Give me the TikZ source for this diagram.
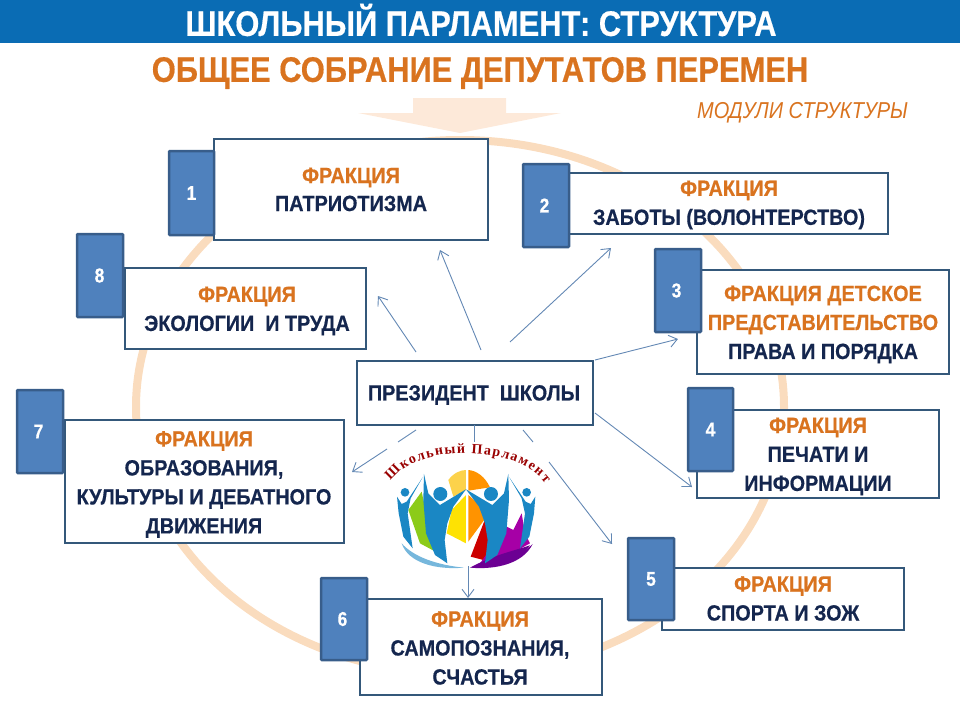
\documentclass[tikz,border=0pt]{standalone}
\usepackage{fontspec}
\setmainfont{Liberation Sans}
\newfontfamily\nar[FakeStretch=0.87,BoldFeatures={FakeStretch=0.87,FakeBold=0.5}]{Liberation Sans}
\newfontfamily\narl[FakeStretch=0.9,BoldFeatures={FakeStretch=0.9,FakeBold=0.5}]{Liberation Sans}
\newfontfamily\logofont{Liberation Serif}
\usetikzlibrary{arrows.meta,decorations.text}
\definecolor{band}{HTML}{0A6CB4}
\definecolor{orng}{HTML}{D9731F}
\definecolor{navy}{HTML}{14264E}
\definecolor{edge}{HTML}{34587A}
\definecolor{numf}{HTML}{4F81BD}
\definecolor{numd}{HTML}{385D8A}
\definecolor{ringc}{HTML}{FADCBE}
\definecolor{arrw}{HTML}{FDE9D9}
\definecolor{conn}{HTML}{6388B4}
\definecolor{figb}{HTML}{1A87C4}
\tikzset{
  boxst/.style={draw=edge,line width=2.8pt,fill=white,inner sep=0pt,rectangle},
  numst/.style={draw=numd,line width=2.5pt,fill=numf,text=white,font=\nar\bfseries\fontsize{20}{20}\selectfont,inner sep=0pt,rounded corners=0.8pt},
  lab/.style={text=navy,font=\narl\bfseries\fontsize{22}{29}\selectfont,align=center,inner sep=0pt},
  conn/.style={draw=conn,line width=0.9pt},
  tip/.style={-{Straight Barb[length=8pt,width=12pt,line width=0.9pt]}},
}
\newcommand{\fr}{\textcolor{orng}{ФРАКЦИЯ}}
\begin{document}
\begin{tikzpicture}[x=1pt,y=-1pt]
\useasboundingbox (0,0) rectangle (960,720);
\fill[band] (0,0) rectangle (960,43);
\node[text=white,inner sep=0pt,font=\nar\bfseries\fontsize{35.5}{35}\selectfont] (title) at (481,20) {ШКОЛЬНЫЙ ПАРЛАМЕНТ: СТРУКТУРА};
\node[text=orng,inner sep=0pt,font=\nar\bfseries\fontsize{35.5}{35}\selectfont] (sub) at (480,73) {ОБЩЕЕ СОБРАНИЕ ДЕПУТАТОВ ПЕРЕМЕН};
\node[text=orng,inner sep=0pt,font=\nar\itshape\fontsize{23}{23}\selectfont] (mod) at (802.5,113) {МОДУЛИ СТРУКТУРЫ};
% ring and big arrow
\draw[ringc,line width=8pt] (460,407) ellipse [x radius=324,y radius=267];
\fill[arrw] (413,98) -- (506,98) -- (506,113) -- (561,113) -- (460,133) -- (358,113) -- (413,113) -- cycle;
% boxes
\node[boxst,minimum width=274pt,minimum height=101pt] (b1) at (351,189.5) {};
\node[numst,minimum width=45pt,minimum height=84pt] (n1) at (191.5,193) {1};
\node[boxst,minimum width=319pt,minimum height=61pt] (b2) at (728.5,203.5) {};
\node[numst,minimum width=46pt,minimum height=83pt] (n2) at (546,205.5) {\hspace*{-3pt}2};
\node[boxst,minimum width=252pt,minimum height=104pt] (b3) at (823,322) {};
\node[numst,minimum width=46pt,minimum height=83pt] (n3) at (678,290.5) {\hspace*{-3pt}3};
\node[boxst,minimum width=242pt,minimum height=88pt] (b4) at (818,454) {};
\node[numst,minimum width=45pt,minimum height=83pt] (n4) at (710.5,429.5) {4};
\node[boxst,minimum width=242pt,minimum height=62pt] (b5) at (783,599) {};
\node[numst,minimum width=46pt,minimum height=82pt] (n5) at (651,579) {5};
\node[boxst,minimum width=242pt,minimum height=96pt] (b6) at (481,647) {};
\node[numst,minimum width=46pt,minimum height=82pt] (n6) at (344,619) {\hspace*{-3pt}6};
\node[boxst,minimum width=279pt,minimum height=123pt] (b7) at (204.5,481.5) {};
\node[numst,minimum width=46pt,minimum height=83pt] (n7) at (40,431.5) {\hspace*{-3pt}7};
\node[boxst,minimum width=241pt,minimum height=81pt] (b8) at (245.5,308.5) {};
\node[numst,minimum width=46pt,minimum height=83pt] (n8) at (100,275.5) {\hspace*{-1pt}8};
\node[boxst,minimum width=236pt,minimum height=64pt] (pres) at (475,393) {};
% labels
\node[lab] (l1) at (351,189.5) {\fr\\[-1pt]ПАТРИОТИЗМА};
\node[lab] (l2) at (729,205) {\fr\\ЗАБОТЫ (ВОЛОНТЕРСТВО)};
\node[lab] (l3) at (823,324.5) {\textcolor{orng}{ФРАКЦИЯ ДЕТСКОЕ}\\\textcolor{orng}{ПРЕДСТАВИТЕЛЬСТВО}\\ПРАВА И ПОРЯДКА};
\node[lab] (l4) at (818,456.5) {\fr\\ПЕЧАТИ И\\ИНФОРМАЦИИ};
\node[lab] (l5) at (783,598.5) {\fr\\СПОРТА И ЗОЖ};
\node[lab] (l6) at (480,648) {\fr\\САМОПОЗНАНИЯ,\\СЧАСТЬЯ};
\node[lab] (l7) at (204,484.5) {\fr\\ОБРАЗОВАНИЯ,\\КУЛЬТУРЫ И ДЕБАТНОГО\\ДВИЖЕНИЯ};
\node[lab] (l8) at (247,311) {\fr\\ЭКОЛОГИИ~ И ТРУДА};
\node[lab] (lp) at (474,395) {ПРЕЗИДЕНТ~ ШКОЛЫ};
% connector end points
\coordinate (s1) at (481,350); \coordinate (e1) at (440,250);
\coordinate (s2) at (510,342); \coordinate (e2) at (611,248);
\coordinate (s3) at (595,360); \coordinate (e3) at (678,339);
\coordinate (s4) at (595,413); \coordinate (e4) at (692,487);
\coordinate (s8) at (416,352); \coordinate (e8) at (378,296);
\coordinate (s7) at (416,430); \coordinate (m7a) at (398,442); \coordinate (m7b) at (387,449); \coordinate (e7) at (352,472);
\coordinate (s5) at (523,430); \coordinate (m5a) at (533,442); \coordinate (m5b) at (549,462); \coordinate (e5) at (612,544);
\coordinate (s6) at (474.5,425); \coordinate (m6a) at (474.5,442); \coordinate (m6b) at (468,566); \coordinate (e6) at (468,598);
\draw[conn,tip] (s1) -- (e1);
\draw[conn,tip] (s2) -- (e2);
\draw[conn,tip] (s3) -- (e3);
\draw[conn,tip] (s4) -- (e4);
\draw[conn,tip] (s8) -- (e8);
\draw[conn] (s7) -- (m7a);
\draw[conn,tip] (m7b) -- (e7);
\draw[conn] (s5) -- (m5a);
\draw[conn,tip] (m5b) -- (e5);
\draw[conn] (s6) -- (m6a);
\draw[conn,tip] (m6b) -- (e6);
% logo
\begin{scope}[shift={(340,400)},x=0.3333pt,y=-0.3333pt]
\fill[yellow!55!orange!70] (325,240) .. controls (340,220) and (360,210) .. (378,210) -- (378,270) -- (340,290) -- cycle;
\fill[orange!85!yellow] (385,210) .. controls (410,212) and (435,230) .. (450,262) -- (385,272) -- cycle;
\fill[yellow!85!orange] (378,285) -- (335,330) -- (320,400) -- (378,430) -- cycle;
\fill[orange!85!yellow] (385,285) -- (425,320) -- (440,350) -- (385,425) -- cycle;
\fill[green!55!black!50!yellow!90] (205,330) -- (245,275) -- (265,370) -- (305,465) -- (240,430) -- cycle;
\fill[red!80!black] (392,470) -- (440,345) -- (480,395) -- (430,480) -- cycle;
\fill[violet!70!magenta] (420,490) -- (500,380) -- (520,390) -- (545,340) -- (555,400) -- (570,430) -- (500,470) -- cycle;
\fill[figb!60!white] (185,430) .. controls (220,470) and (290,495) .. (372,503) .. controls (290,510) and (205,490) .. (185,430) -- cycle;
\fill[violet!85!blue] (578,432) .. controls (540,470) and (470,490) .. (390,503) .. controls (470,510) and (550,490) .. (578,432) -- cycle;
\fill[violet!85!blue] (570,436) .. controls (530,450) and (460,465) .. (390,503) .. controls (470,495) and (540,480) .. (570,436) -- cycle;
\fill[figb] (252,222) -- (265,280) -- (300,315) -- (378,268) -- (340,320) -- (322,370) -- (314,420) -- (322,490) -- (285,465) -- (258,400) -- (250,300) -- cycle;
\fill[figb] (505,222) -- (492,280) -- (457,315) -- (378,268) -- (417,320) -- (435,370) -- (443,420) -- (435,490) -- (472,465) -- (499,400) -- (507,300) -- cycle;
\fill[figb] (248,232) -- (212,295) -- (203,340) -- (218,445) -- (190,410) -- (176,340) -- (171,290) -- (185,312) -- (200,305) -- cycle;
\fill[figb] (508,232) -- (545,295) -- (555,340) -- (540,445) -- (568,410) -- (582,340) -- (586,290) -- (572,312) -- (557,305) -- cycle;
\fill[figb] (301,282) circle [radius=21];
\fill[figb] (453,282) circle [radius=21];
\fill[figb] (195,277) circle [radius=13];
\fill[figb] (560,277) circle [radius=13];
\path[decorate,decoration={text along path,text align=fit to path,
  text={|\logofont\bfseries\fontsize{14}{14}\selectfont\color{red!60!black}|Школьный Парламент}}]
  (152,243) .. controls (230,130) and (530,130) .. (615,250);
\end{scope}
\end{tikzpicture}
\end{document}
